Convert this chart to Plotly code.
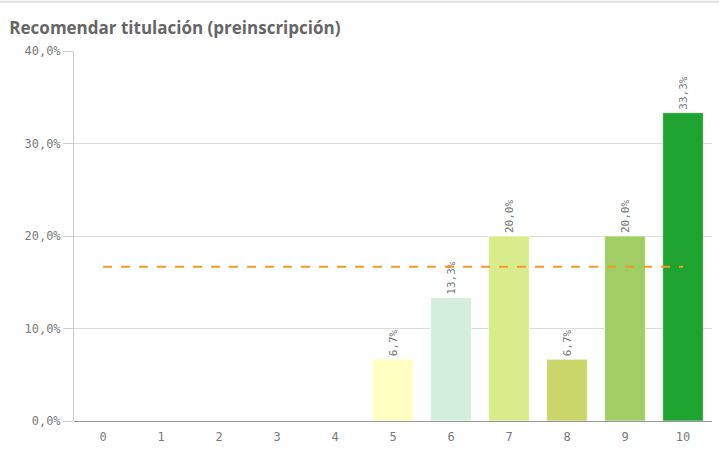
import plotly.graph_objects as go

categories = ["0", "1", "2", "3", "4", "5", "6", "7", "8", "9", "10"]
values = [0, 0, 0, 0, 0, 0.0667, 0.1333, 0.20, 0.0667, 0.20, 0.3333]
bar_colors = ["#cccccc"] * 5 + ["#ffffc2", "#d3eedc", "#d9ec8c", "#cbd66a", "#a1ce64", "#1fa330"]
average = 0.1667
y_ticks = [0, 0.1, 0.2, 0.3, 0.4]

labels = [("%.1f%%" % (v * 100)).replace(".", ",") if v > 0 else "" for v in values]

fig = go.Figure()
fig.add_trace(go.Bar(
    x=categories, y=values, width=0.7,
    marker=dict(color=bar_colors, line=dict(color="rgba(255,255,255,0.6)", width=1)),
    text=labels, textposition="outside", textangle=-90, cliponaxis=False,
    textfont=dict(family="DejaVu Sans Mono", size=11, color="#777777"),
    hoverinfo="skip",
))
fig.add_trace(go.Scatter(
    x=[categories[0], categories[-1]], y=[average, average], mode="lines",
    line=dict(color="#f39a2e", width=2, dash="dash"), hoverinfo="skip",
))

fig.update_layout(
    width=719, height=454,
    margin=dict(l=74, r=7, t=51, b=33),
    paper_bgcolor="white", plot_bgcolor="white",
    showlegend=False,
    separators=",.",
    title=dict(text="<b>Recomendar titulación (preinscripción)</b>", x=0.013, xanchor="left",
               y=0.938, yanchor="middle",
               font=dict(family="Open Sans", size=17, color="#666666")),
    xaxis=dict(range=[-0.5, 10.5], type="category", showgrid=False,
               showline=False, ticks="outside", ticklen=5, tickcolor="rgba(0,0,0,0)", zeroline=False,
               tickfont=dict(family="DejaVu Sans Mono", size=12, color="#7a7a7a")),
    yaxis=dict(range=[0, 0.4], tickvals=y_ticks, tickformat=".1%",
               showgrid=True, gridcolor="#dcdcdc", gridwidth=1,
               showline=True, linecolor="#cccccc", linewidth=1,
               ticks="outside", ticklen=10, tickcolor="#cccccc",
               zeroline=True, zerolinecolor="#999999", zerolinewidth=1,
               tickfont=dict(family="DejaVu Sans Mono", size=12, color="#7a7a7a")),
    shapes=[dict(type="line", xref="paper", yref="paper", x0=-0.12, x1=1.02, y0=1.133, y1=1.133,
                 line=dict(color="#e0e0e0", width=2))],
)

fig.write_html("out.html", config={"displayModeBar": False},
               post_script="document.body.style.margin='0';")
